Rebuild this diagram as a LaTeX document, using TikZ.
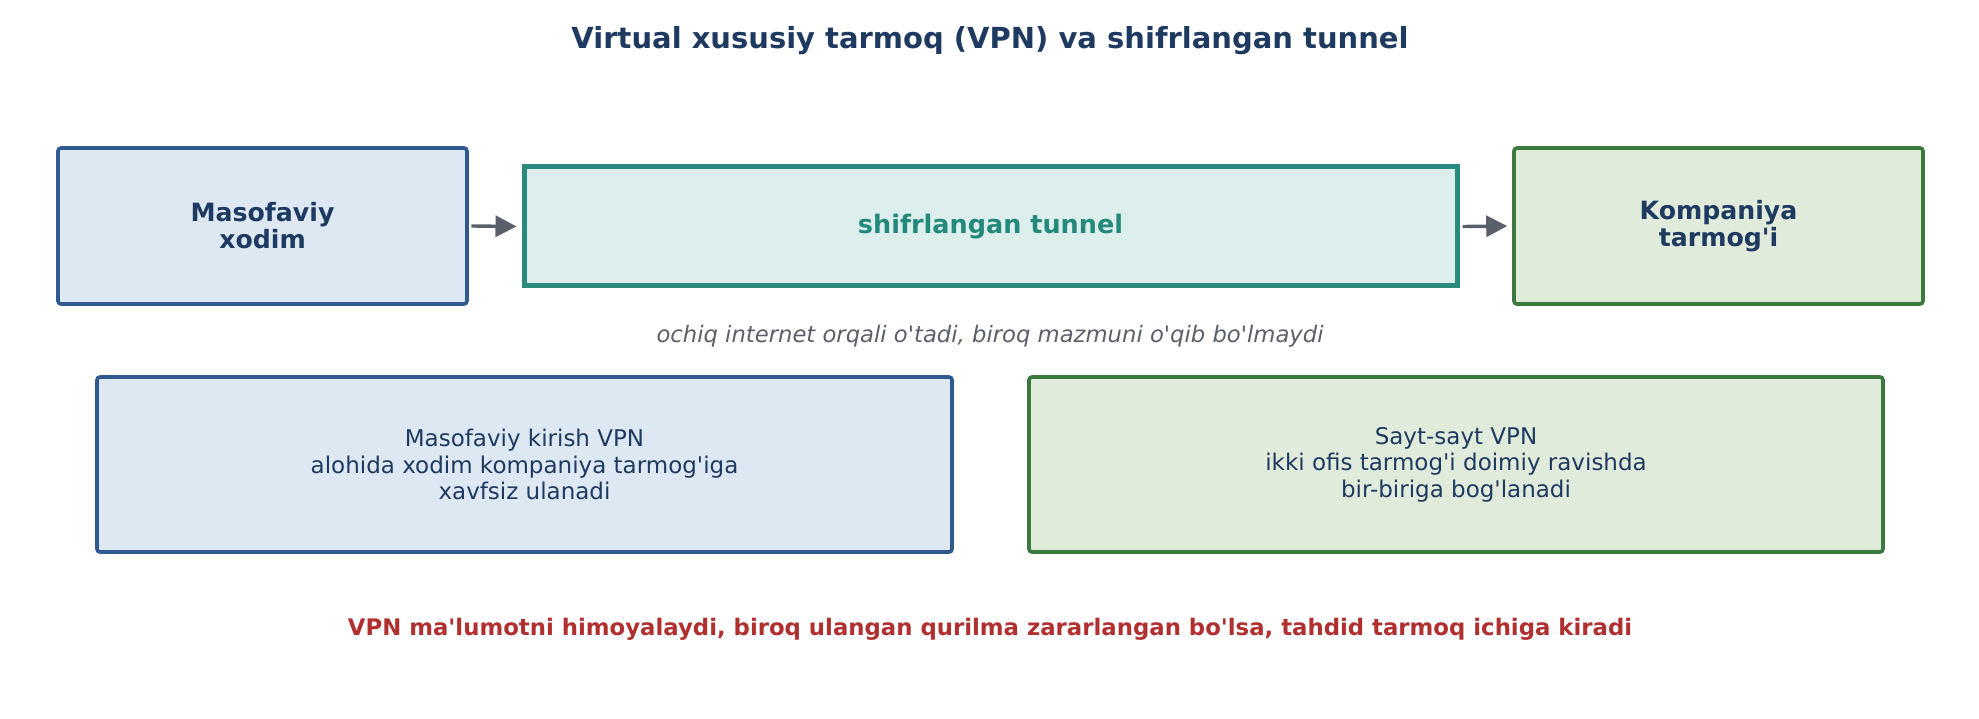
\documentclass[tikz,border=0pt]{standalone}
\usepackage{fontspec}
\setmainfont{DejaVu Sans}[Ligatures=TeXOff]
\usetikzlibrary{arrows.meta}
\definecolor{titlec}{HTML}{1F3A60}
\definecolor{blueb}{HTML}{2E5A8F}
\definecolor{bluef}{HTML}{DDE8F3}
\definecolor{tealb}{HTML}{2A8A7E}
\definecolor{tealf}{HTML}{DCEFEC}
\definecolor{tealt}{HTML}{23897B}
\definecolor{greenb}{HTML}{3A7A3D}
\definecolor{greenf}{HTML}{E0EBDC}
\definecolor{grayt}{HTML}{5A606A}
\definecolor{redt}{HTML}{B03030}
\begin{document}
\begin{tikzpicture}[x=1pt,y=-1pt,
  box/.style={rounded corners=3pt,line width=3.6pt,inner sep=0pt,align=center,text=titlec},
  bluebox/.style={box,draw=blueb,fill=bluef},
  greenbox/.style={box,draw=greenb,fill=greenf},
  tunnelbox/.style={draw=tealb,fill=tealf,line width=5pt,inner sep=0pt,align=center,text=tealt},
  conn/.style={-{Triangle[length=21pt,width=21pt]},line width=3.4pt,draw=grayt,shorten >=5pt},
  bigfont/.style={font=\fontsize{25.2}{27}\selectfont\bfseries},
  smallfont/.style={font=\fontsize{23}{26.5}\selectfont}
]
\useasboundingbox (0,0) rectangle (1979,719);
\node[font=\fontsize{29}{32}\selectfont\bfseries,text=titlec] (title) at (990,40.5) {Virtual xususiy tarmoq (VPN) va shifrlangan tunnel};
\node[bluebox,bigfont,minimum width=409pt,minimum height=156pt] (a) at (262.5,226) {Masofaviy\\xodim};
\node[tunnelbox,font=\fontsize{25.5}{27}\selectfont\bfseries,minimum width=933pt,minimum height=119pt] (t) at (990.5,226.5) {shifrlangan tunnel};
\node[greenbox,bigfont,minimum width=409pt,minimum height=156pt] (c) at (1718.5,226) {Kompaniya\\tarmog'i};
\draw[conn] (a.east) ++(2.5pt,0) coordinate (a1) -- (t.west);
\draw[conn] (t.east) ++(3pt,0) coordinate (t1) -- (c.west);
\node[font=\fontsize{22.7}{26}\selectfont\itshape,text=grayt] (sub) at (990,336) {ochiq internet orqali o'tadi, biroq mazmuni o'qib bo'lmaydi};
\node[bluebox,smallfont,minimum width=855pt,minimum height=175pt] (d) at (524.5,464.5) {Masofaviy kirish VPN\\alohida xodim kompaniya tarmog'iga\\xavfsiz ulanadi};
\node[greenbox,smallfont,minimum width=854pt,minimum height=175pt] (e) at (1456,464.5) {Sayt-sayt VPN\\ikki ofis tarmog'i doimiy ravishda\\bir-biriga bog'lanadi};
\node[font=\fontsize{22.8}{26}\selectfont\bfseries,text=redt] (warn) at (990,629) {VPN ma'lumotni himoyalaydi, biroq ulangan qurilma zararlangan bo'lsa, tahdid tarmoq ichiga kiradi};
\end{tikzpicture}
\end{document}
